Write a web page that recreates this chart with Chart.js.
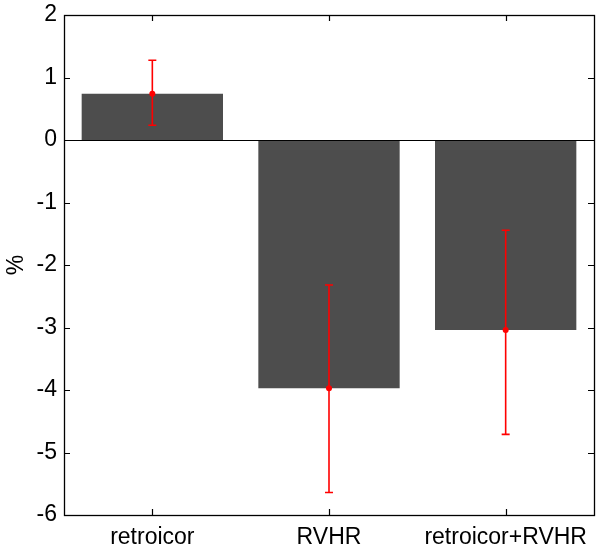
<!DOCTYPE html>
<html>
<head>
<meta charset="utf-8">
<script src="https://cdn.jsdelivr.net/npm/chart.js@4/dist/chart.umd.min.js"></script>
<style>
html,body{margin:0;padding:0;background:#fff;}
#wrap{width:600px;height:555px;}
</style>
</head>
<body>
<div id="wrap"><canvas id="c" width="600" height="555"></canvas></div>
<script>
const categories = ['retroicor', 'RVHR', 'retroicor+RVHR'];
const means = [0.74, -3.97, -3.04];
const errLow = [0.235, -5.64, -4.71];
const errHigh = [1.275, -2.32, -1.445];
const yTicks = [-6, -5, -4, -3, -2, -1, 0, 1, 2];

const FONT = 'Liberation Sans';

const framePlugin = {
  id: 'frame',
  afterDatasetsDraw(chart) {
    const ctx = chart.ctx;
    const a = chart.chartArea;
    const xs = chart.scales.x, ys = chart.scales.y;
    ctx.save();
    // zero baseline
    ctx.strokeStyle = '#000';
    ctx.lineWidth = 1.2;
    const y0 = Math.round(ys.getPixelForValue(0)) + 0.5;
    ctx.beginPath();
    ctx.moveTo(a.left, y0); ctx.lineTo(a.right, y0);
    ctx.stroke();
    // error bars
    ctx.strokeStyle = '#ff0000';
    ctx.fillStyle = '#ff0000';
    ctx.lineWidth = 1.6;
    for (let i = 0; i < means.length; i++) {
      const x = xs.getPixelForValue(i);
      const yl = ys.getPixelForValue(errLow[i]);
      const yh = ys.getPixelForValue(errHigh[i]);
      const ym = ys.getPixelForValue(means[i]);
      ctx.beginPath();
      ctx.moveTo(x, yl); ctx.lineTo(x, yh);
      ctx.moveTo(x - 4, yl); ctx.lineTo(x + 4, yl);
      ctx.moveTo(x - 4, yh); ctx.lineTo(x + 4, yh);
      ctx.stroke();
      ctx.beginPath();
      ctx.arc(x, ym, 3, 0, Math.PI * 2);
      ctx.fill();
    }
    // box
    ctx.strokeStyle = '#000';
    ctx.lineWidth = 1.3;
    ctx.strokeRect(a.left + 0.5, a.top + 0.5, a.right - a.left, a.bottom - a.top);
    // inward ticks
    ctx.lineWidth = 1.2;
    ctx.beginPath();
    yTicks.forEach(v => {
      const y = Math.round(ys.getPixelForValue(v)) + 0.5;
      ctx.moveTo(a.left, y); ctx.lineTo(a.left + 6, y);
      ctx.moveTo(a.right, y); ctx.lineTo(a.right - 6, y);
    });
    for (let i = 0; i < categories.length; i++) {
      const x = Math.round(xs.getPixelForValue(i)) + 0.5;
      ctx.moveTo(x, a.bottom); ctx.lineTo(x, a.bottom - 6);
      ctx.moveTo(x, a.top); ctx.lineTo(x, a.top + 6);
    }
    ctx.stroke();
    ctx.restore();
  }
};

new Chart(document.getElementById('c'), {
  type: 'bar',
  data: {
    labels: categories,
    datasets: [{
      data: means,
      backgroundColor: '#4d4d4d',
      borderWidth: 0,
      barPercentage: 0.8,
      categoryPercentage: 1.0
    }]
  },
  options: {
    responsive: false,
    animation: false,
    devicePixelRatio: 1,
    layout: { padding: { top: 15, right: 6, left: 0, bottom: 0 } },
    plugins: { legend: { display: false }, tooltip: { enabled: false } },
    scales: {
      x: {
        type: 'category',
        offset: true,
        grid: { display: false, drawTicks: false },
        border: { display: false },
        ticks: { color: '#000', font: { family: FONT, size: 23 }, padding: 9, maxRotation: 0 },
        afterFit(s) { s.height = 40; s.paddingLeft = 0; s.paddingRight = 0; }
      },
      y: {
        min: -6, max: 2,
        grid: { display: false, drawTicks: false },
        border: { display: false },
        ticks: { stepSize: 1, color: '#000', font: { family: FONT, size: 23 }, padding: 7 },
        title: { display: true, text: '%', color: '#000', font: { family: FONT, size: 23 }, padding: { top: 3, bottom: 0 } },
        afterFit(s) { s.width = 64; s.paddingTop = 0; s.paddingBottom = 0; }
      }
    }
  },
  plugins: [framePlugin]
});
</script>
</body>
</html>
